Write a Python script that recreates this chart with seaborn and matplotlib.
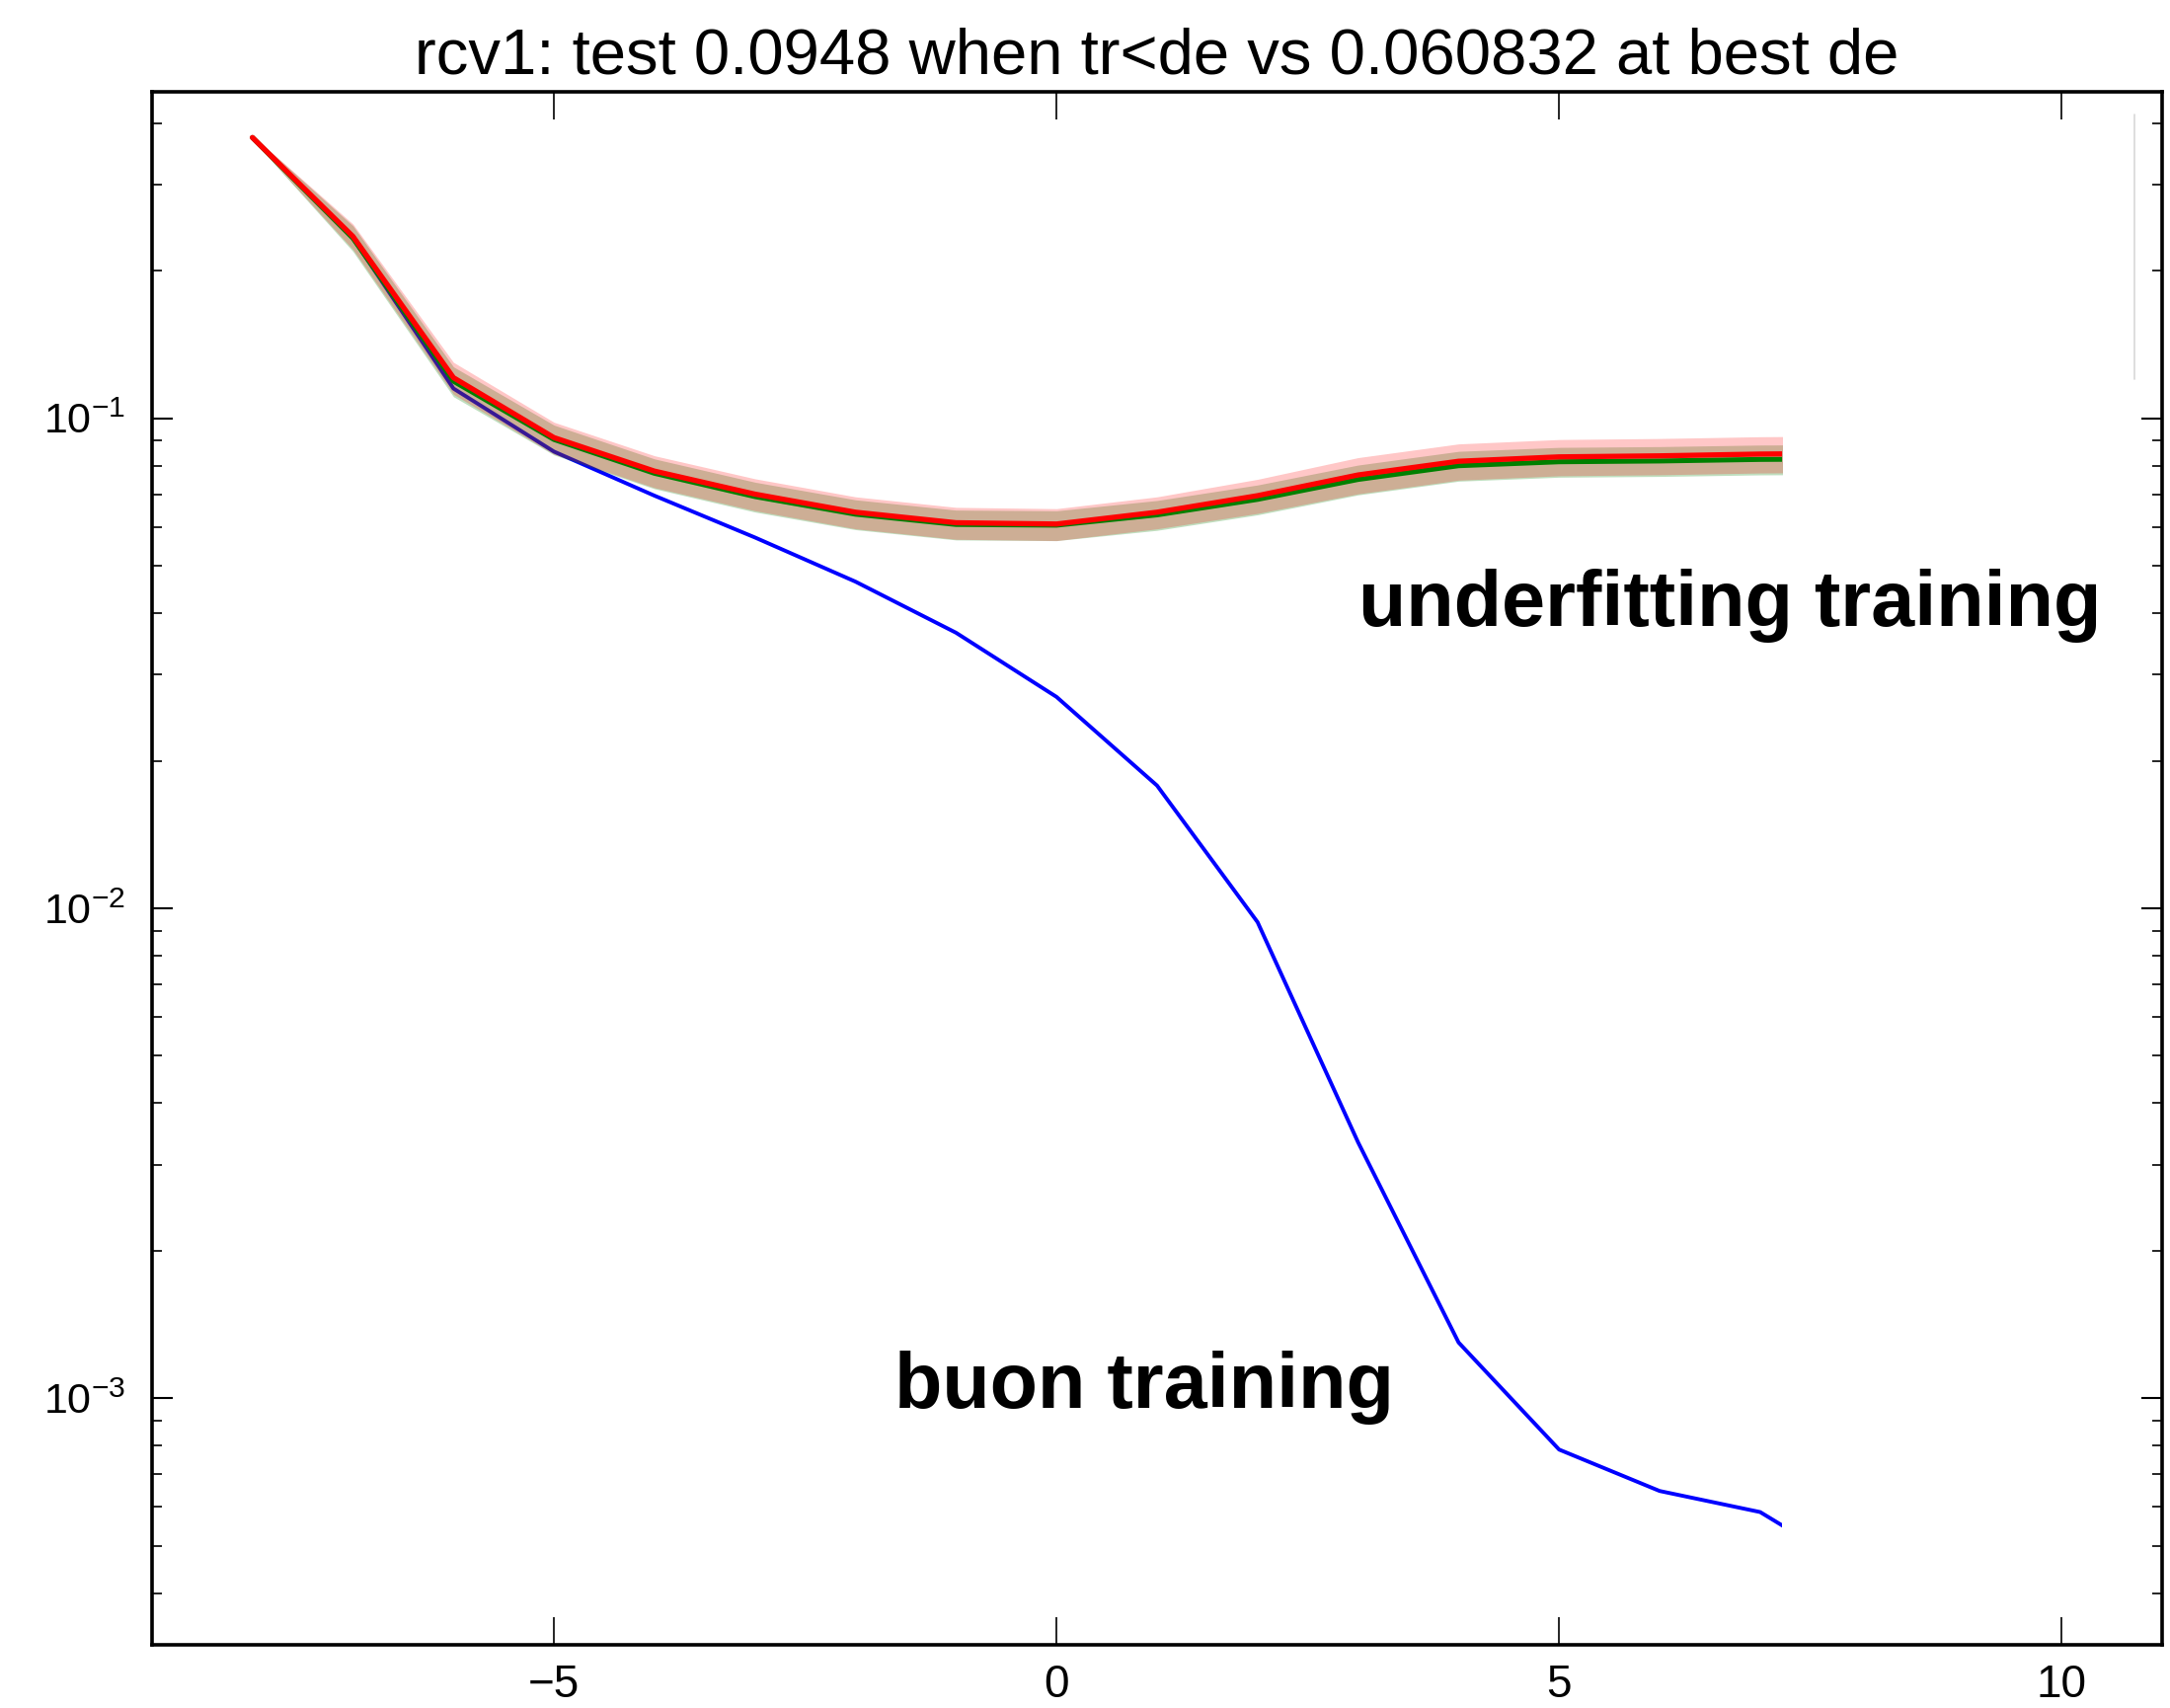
import numpy as np
import pandas as pd
import matplotlib
matplotlib.use("Agg")
import matplotlib.pyplot as plt
import seaborn as sns
from matplotlib.patches import Rectangle

# log2 of the regularisation strength (de)
log_de = [-8, -7, -6, -5, -4, -3, -2, -1, 0, 1, 2, 3, 4, 5, 6, 7, 8]
# training error
train_err = [0.374, 0.233, 0.115, 0.0855, 0.0695, 0.0571, 0.0464, 0.0365,
             0.0270, 0.0178, 0.00937, 0.00333, 0.00130, 0.000786, 0.000647,
             0.000586, 0.00044]
# test error (mean over folds)
test_err = [0.374, 0.235, 0.121, 0.0913, 0.0780, 0.0700, 0.0643, 0.0612,
            0.060832, 0.0643, 0.0695, 0.0766, 0.0817, 0.0834, 0.0838, 0.0845,
            0.0848]
# test error (median over folds)
test_med = [0.374, 0.233, 0.119, 0.0905, 0.0772, 0.0692, 0.0637, 0.0607,
            0.0605, 0.0635, 0.0683, 0.0750, 0.0800, 0.0815, 0.0818, 0.0824,
            0.0826]
# relative fold spread around each test curve
test_spread = [0.01, 0.06, 0.075, 0.075, 0.075, 0.075, 0.075, 0.075, 0.075,
               0.075, 0.08, 0.085, 0.085, 0.085, 0.085, 0.085, 0.085]
med_spread = [0.01, 0.06, 0.07, 0.07, 0.07, 0.07, 0.07, 0.07, 0.07, 0.07,
              0.07, 0.07, 0.07, 0.07, 0.07, 0.07, 0.07]

title_text = "rcv1: test 0.0948 when tr<de vs 0.060832 at best de"
label_under = "underfitting training"
label_good = "buon training"
x_last = 7.22  # sweep stops here

sns.set_style("ticks")
plt.rcParams["font.family"] = ["Liberation Sans", "DejaVu Sans"]
plt.rcParams["mathtext.default"] = "regular"
plt.rcParams["text.color"] = "black"
plt.rcParams["xtick.color"] = "black"
plt.rcParams["ytick.color"] = "black"

df = pd.DataFrame({"log_de": log_de, "train": train_err, "test": test_err,
                   "test_med": test_med})
x = np.array(log_de, dtype=float)
t = np.array(test_err)
m = np.array(test_med)
ts = np.array(test_spread)
ms = np.array(med_spread)

fig = plt.figure(figsize=(21.98, 17.30), dpi=100)
ax = fig.add_axes([0.070, 0.037, 0.9264, 0.9095])

clip = Rectangle((-20, 1e-8), 20 + x_last, 1e3, transform=ax.transData)

sns.lineplot(data=df, x="log_de", y="train", ax=ax, color="#0000ff",
             linewidth=2.8, zorder=1)
b1 = ax.fill_between(x, m * (1 - ms), m * (1 + ms), color="#008000",
                     alpha=0.25, linewidth=0, zorder=2)
b2 = ax.fill_between(x, t * (1 - ts), t * (1 + ts), color="#ff0000",
                     alpha=0.22, linewidth=0, zorder=2)
sns.lineplot(data=df, x="log_de", y="test_med", ax=ax, color="#008000",
             linewidth=3.6, zorder=3)
sns.lineplot(data=df, x="log_de", y="test", ax=ax, color="#ff0000",
             linewidth=3.8, zorder=4)
for art in list(ax.lines) + [b1, b2]:
    art.set_clip_path(clip)

ax.set_yscale("log")
ax.set_xlim(-9, 11)
ax.set_ylim(10 ** -3.503, 10 ** -0.333)
ax.set_xticks([-5, 0, 5, 10])
ax.set_xlabel("")
ax.set_ylabel("")

for s in ax.spines.values():
    s.set_linewidth(2.6)
    s.set_color("black")

ax.tick_params(axis="x", which="major", direction="in", length=20, width=1.2,
               top=True, bottom=True, labelsize=33, pad=14)
ax.tick_params(axis="y", which="major", direction="in", length=15, width=1.5,
               left=True, right=True, labelsize=31, pad=19)
ax.tick_params(axis="y", which="minor", direction="in", length=7, width=1.2,
               left=True, right=True)

ax.set_title(title_text, fontsize=47, pad=13, color="black")

ax.text(3.0, 0.0377, label_under, fontsize=57, fontweight="bold",
        ha="left", va="baseline", color="black", zorder=6)
ax.text(-1.61, 9.55e-4, label_good, fontsize=57, fontweight="bold",
        ha="left", va="baseline", color="black", zorder=6)

# faint edge line near the right border
ax.plot([10.72, 10.72], [10 ** -0.38, 10 ** -0.92], color="#d8d8d8",
        linewidth=1.2, zorder=1)

fig.savefig("out.png", dpi=100)
